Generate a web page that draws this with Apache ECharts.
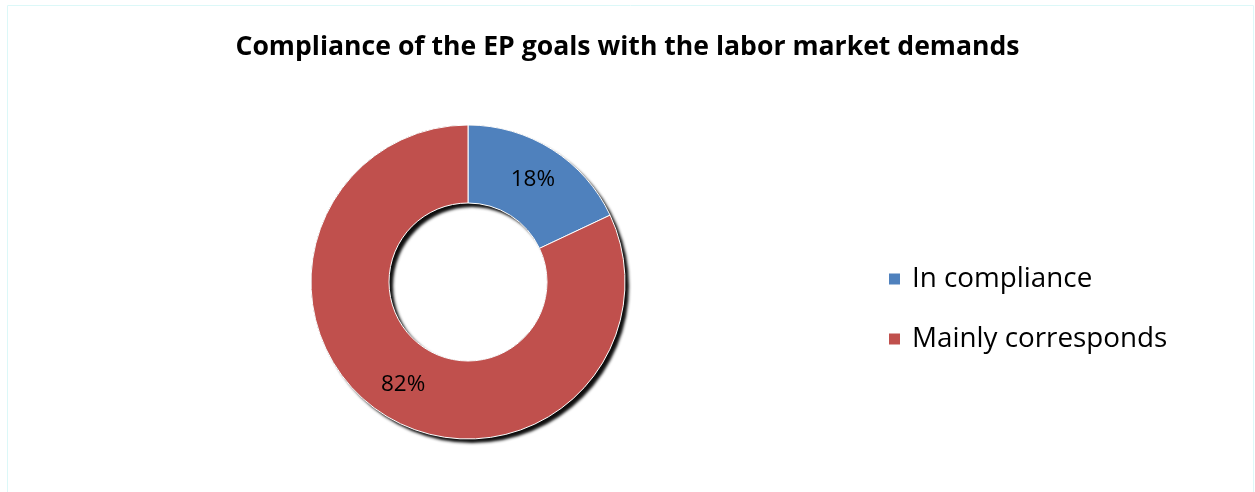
<!DOCTYPE html>
<html>
<head>
<meta charset="utf-8">
<script src="https://cdn.jsdelivr.net/npm/echarts@6/dist/echarts.min.js"></script>
<style>
  html, body { margin: 0; padding: 0; background: #ffffff; }
  #chart { width: 1255px; height: 492px; }
</style>
</head>
<body>
<div id="chart"></div>
<script>
// Survey answers and their shares (percent)
const categories = ['In compliance', 'Mainly corresponds'];
const shares = [18, 82];
const colors = ['#4F81BD', '#C0504D'];
const titleText = 'Compliance of the EP goals with the labor market demands';

const FONT = '"Open Sans", Lato, sans-serif';
const center = [468, 282];
const radius = [79, 157];

const chart = echarts.init(document.getElementById('chart'), null, { renderer: 'canvas' });

chart.setOption({
  animation: false,
  title: {
    text: titleText,
    left: 'center',
    top: 29,
    textStyle: { fontFamily: FONT, fontSize: 26.6, fontWeight: 'bold', color: '#000000' }
  },
  legend: {
    orient: 'vertical',
    left: 882,
    top: 260,
    itemWidth: 13,
    itemHeight: 13,
    itemGap: 32,
    icon: 'rect',
    data: categories,
    textStyle: { fontFamily: FONT, fontSize: 27.8, color: '#000000', padding: [0, 0, 0, 6] }
  },
  graphic: [{
    type: 'rect',
    shape: { x: 7.5, y: 5.5, width: 1246, height: 495 },
    style: { fill: 'none', stroke: '#dcf8f8', lineWidth: 1 },
    silent: true,
    z: -10
  }],
  series: [
    {
      // drop shadow under the ring
      type: 'pie',
      silent: true,
      center: center,
      radius: radius,
      startAngle: 90,
      label: { show: false },
      labelLine: { show: false },
      itemStyle: {
        color: '#000000',
        shadowColor: 'rgba(0,0,0,0.95)',
        shadowBlur: 3,
        shadowOffsetX: 4,
        shadowOffsetY: 4
      },
      data: [{ name: '_shadow', value: 1 }],
      z: 1
    },
    {
      type: 'pie',
      center: center,
      radius: radius,
      startAngle: 90,
      clockwise: true,
      label: {
        show: true,
        position: 'inside',
        formatter: p => p.value + '%',
        fontFamily: FONT,
        fontSize: 22.5,
        color: '#000000'
      },
      labelLine: { show: false },
      itemStyle: { borderColor: '#ffffff', borderWidth: 1 },
      data: categories.map((c, i) => ({ name: c, value: shares[i], itemStyle: { color: colors[i] } })),
      z: 2
    }
  ]
});
</script>
</body>
</html>
